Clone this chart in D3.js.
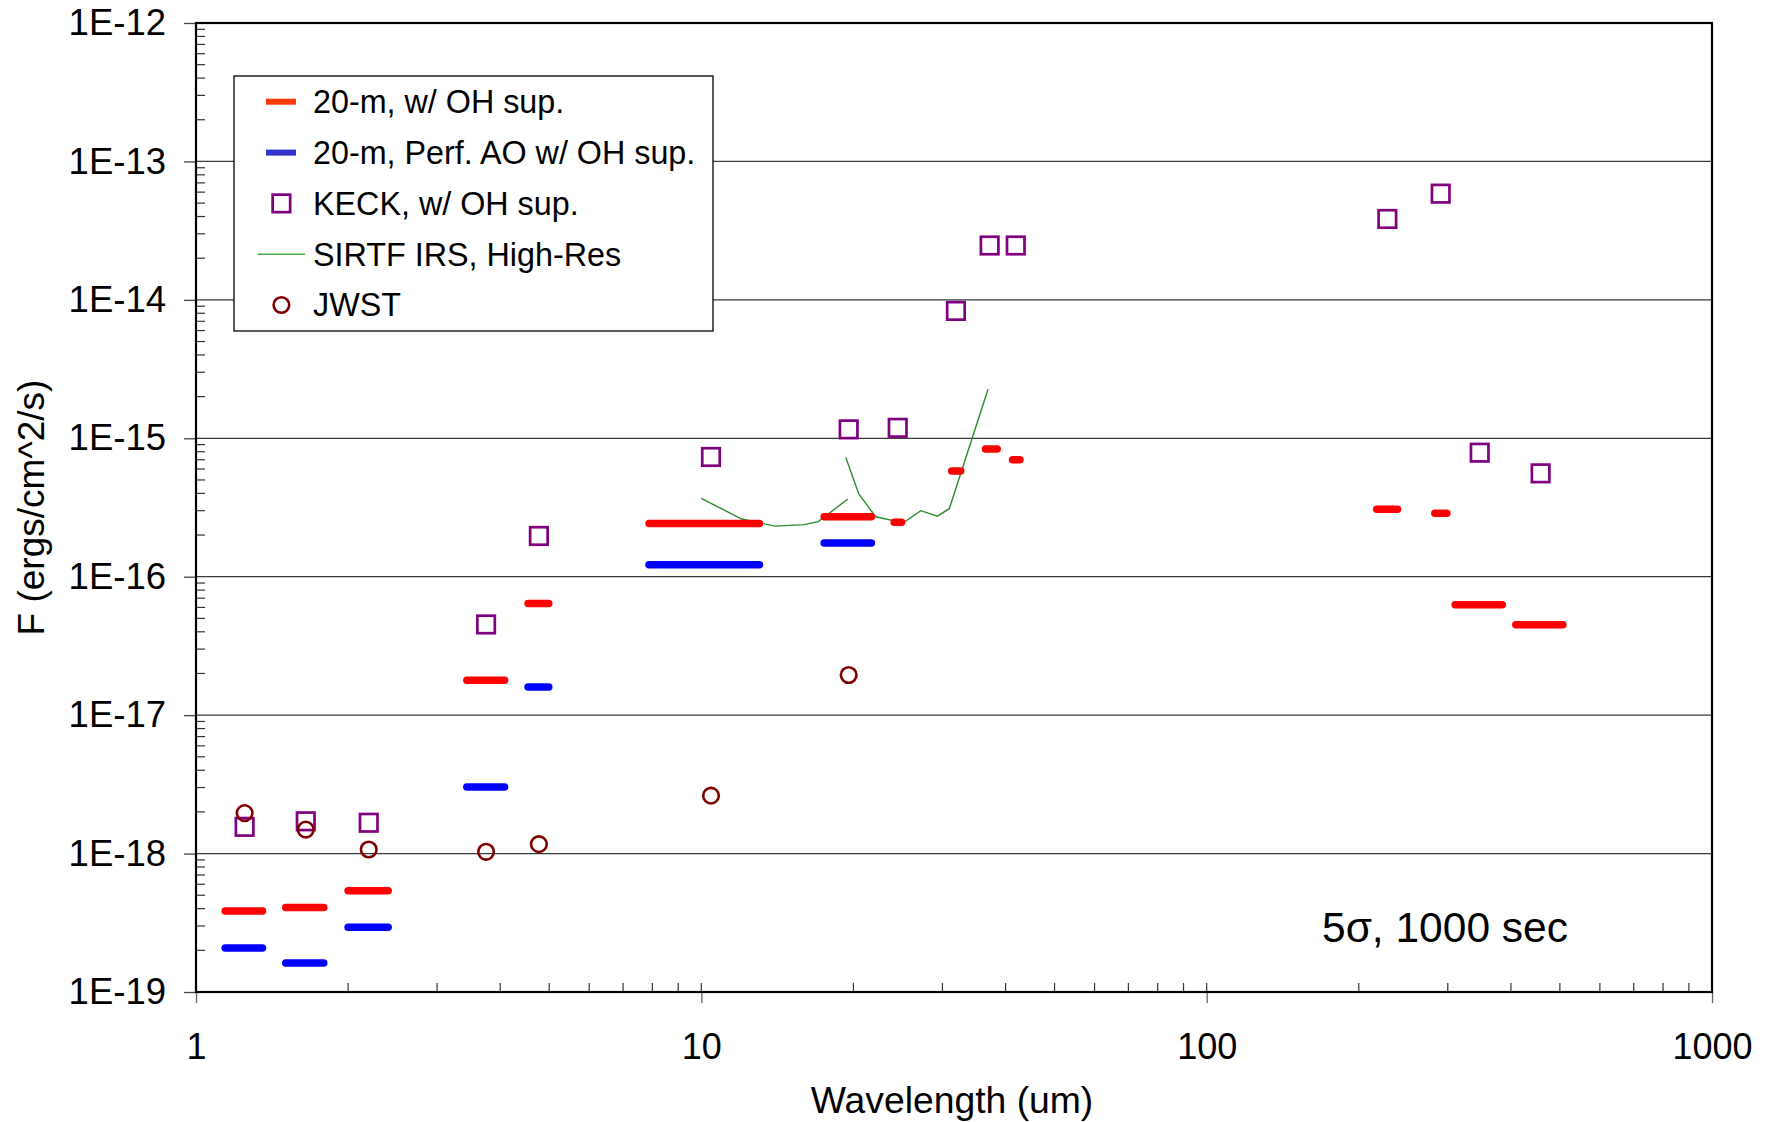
<!DOCTYPE html>
<html><head><meta charset="utf-8">
<script src="https://cdn.jsdelivr.net/npm/d3@7"></script>
<style>html,body{margin:0;padding:0;background:#fff;} svg{display:block;font-family:"Liberation Sans",Arial,sans-serif;}</style>
</head><body>
<svg id="chart" width="1772" height="1122"></svg>
<script>
// ---- data ----
const xTickValues = [1, 10, 100, 1000];
const xTickLabels = ["1", "10", "100", "1000"];
const yTickValues = [1e-12, 1e-13, 1e-14, 1e-15, 1e-16, 1e-17, 1e-18, 1e-19];
const yTickLabels = ["1E-12", "1E-13", "1E-14", "1E-15", "1E-16", "1E-17", "1E-18", "1E-19"];
const seriesNames = ["20-m, w/ OH sup.", "20-m, Perf. AO w/ OH sup.", "KECK, w/ OH sup.", "SIRTF IRS, High-Res", "JWST"];

// 20-m, w/ OH sup. (band start, band end, flux)
const redLo = [1.142, 1.505, 2.0, 3.435, 4.54, 7.88, 17.5, 24.08, 31.3, 36.5, 41.3, 217, 282.8, 310.3, 409];
const redHi = [1.354, 1.79, 2.40, 4.08, 4.99, 13.03, 21.7, 24.9, 32.6, 38.5, 42.7, 238.6, 298.7, 384.5, 506.8];
const redF  = [3.85e-19, 4.07e-19, 5.39e-19, 1.79e-17, 6.4e-17, 2.42e-16, 2.71e-16, 2.47e-16, 5.8e-16, 8.37e-16, 7.0e-16, 3.07e-16, 2.87e-16, 6.28e-17, 4.5e-17];

// 20-m, Perf. AO w/ OH sup.
const blueLo = [1.142, 1.505, 2.0, 3.435, 4.54, 7.88, 17.5];
const blueHi = [1.354, 1.79, 2.40, 4.08, 4.99, 13.03, 21.7];
const blueF  = [2.08e-19, 1.62e-19, 2.93e-19, 3.02e-18, 1.6e-17, 1.22e-16, 1.75e-16];

// KECK, w/ OH sup.
const keckX = [1.248, 1.649, 2.197, 3.75, 4.77, 10.45, 19.57, 24.47, 31.9, 37.2, 41.9, 227.8, 290.5, 347, 458];
const keckF = [1.56e-18, 1.71e-18, 1.67e-18, 4.52e-17, 1.97e-16, 7.33e-16, 1.16e-15, 1.19e-15, 8.32e-15, 2.47e-14, 2.47e-14, 3.84e-14, 5.85e-14, 7.87e-16, 5.58e-16];

// SIRTF IRS, High-Res (two modules)
const sirtfShortX = [10.0, 12.02, 13.99, 15.97, 17.04, 19.49];
const sirtfShortF = [3.68e-16, 2.61e-16, 2.32e-16, 2.38e-16, 2.50e-16, 3.64e-16];
const sirtfLongX  = [19.31, 20.49, 22.13, 25.10, 27.18, 29.31, 30.95, 36.93];
const sirtfLongF  = [7.29e-16, 3.96e-16, 2.71e-16, 2.45e-16, 3.0e-16, 2.74e-16, 3.10e-16, 2.26e-15];

// JWST
const jwstX = [1.248, 1.649, 2.197, 3.75, 4.77, 10.45, 19.57];
const jwstF = [1.96e-18, 1.49e-18, 1.07e-18, 1.03e-18, 1.17e-18, 2.62e-18, 1.95e-17];

const xTitle = "Wavelength (um)";
const yTitle = "F (ergs/cm^2/s)";
const note = "5\u03c3, 1000 sec";

// ---- layout ----
const L = 196, R = 1712, T = 23, B = 992;
const C = {red: "#ff0000", blue: "#0000ff", keck: "#800080", green: "#2e8b2e", jwst: "#800000",
           legRed: "#ff3a0a", legBlue: "#3333cc"};

const svg = d3.select("#chart");
const x = d3.scaleLog().domain([1, 1000]).range([L, R]);
const y = d3.scaleLog().domain([1e-19, 1e-12]).range([B, T]);

// gridlines
svg.append("g").selectAll("line").data(yTickValues.slice(1, -1)).join("line")
  .attr("x1", L).attr("x2", R).attr("y1", d => y(d)).attr("y2", d => y(d))
  .attr("stroke", "#3a3a3a").attr("stroke-width", 1.3);

// minor ticks (inside)
const xMinor = x.ticks().filter(d => !xTickValues.some(v => Math.abs(v - d) < 1e-9));
svg.append("g").selectAll("line").data(xMinor).join("line")
  .attr("x1", d => x(d)).attr("x2", d => x(d)).attr("y1", B).attr("y2", B - 9)
  .attr("stroke", "#333").attr("stroke-width", 1.2);
svg.append("g").selectAll("line").data([10, 100]).join("line")
  .attr("x1", d => x(d)).attr("x2", d => x(d)).attr("y1", B).attr("y2", B - 9)
  .attr("stroke", "#333").attr("stroke-width", 1.2);
const yMinor = y.ticks().filter(d => !yTickValues.some(v => Math.abs(Math.log10(v) - Math.log10(d)) < 1e-6));
svg.append("g").selectAll("line").data(yMinor).join("line")
  .attr("x1", L).attr("x2", L + 9).attr("y1", d => y(d)).attr("y2", d => y(d))
  .attr("stroke", "#333").attr("stroke-width", 1.2);

// axes
const xAxis = d3.axisBottom(x).tickValues(xTickValues)
  .tickFormat((d, i) => xTickLabels[i]).tickSizeInner(11).tickSizeOuter(0).tickPadding(30);
const gx = svg.append("g").attr("transform", `translate(0,${B})`).call(xAxis);
gx.select(".domain").remove();
gx.selectAll(".tick line").attr("stroke", "#666").attr("stroke-width", 1.3);
gx.selectAll(".tick text").attr("font-size", 36).attr("fill", "#000");

const yAxis = d3.axisLeft(y).tickValues(yTickValues)
  .tickFormat((d, i) => yTickLabels[i]).tickSizeInner(12).tickSizeOuter(0).tickPadding(18);
const gy = svg.append("g").attr("transform", `translate(${L},0)`).call(yAxis);
gy.select(".domain").remove();
gy.selectAll(".tick line").attr("stroke", "#444").attr("stroke-width", 1.3);
gy.selectAll(".tick text").attr("font-size", 36.5).attr("fill", "#000");

// plot border
svg.append("rect").attr("x", L).attr("y", T).attr("width", R - L).attr("height", B - T)
  .attr("fill", "none").attr("stroke", "#000").attr("stroke-width", 2.2);

// SIRTF lines
const line = d3.line().x(d => x(d[0])).y(d => y(d[1]));
[[sirtfShortX, sirtfShortF], [sirtfLongX, sirtfLongF]].forEach(([xs, fs]) => {
  svg.append("path").datum(xs.map((v, i) => [v, fs[i]])).attr("d", line)
    .attr("fill", "none").attr("stroke", C.green).attr("stroke-width", 1.4);
});

// bars
function bars(lo, hi, f, color) {
  svg.append("g").selectAll("line").data(f.map((v, i) => ({lo: lo[i], hi: hi[i], f: v}))).join("line")
    .attr("x1", d => x(d.lo)).attr("x2", d => x(d.hi)).attr("y1", d => y(d.f)).attr("y2", d => y(d.f))
    .attr("stroke", color).attr("stroke-width", 7.5).attr("stroke-linecap", "round");
}
bars(redLo, redHi, redF, C.red);
bars(blueLo, blueHi, blueF, C.blue);

// KECK squares
svg.append("g").selectAll("rect").data(keckX.map((v, i) => [v, keckF[i]])).join("rect")
  .attr("x", d => x(d[0]) - 8.75).attr("y", d => y(d[1]) - 8.75).attr("width", 17.5).attr("height", 17.5)
  .attr("fill", "none").attr("stroke", C.keck).attr("stroke-width", 2.7);

// JWST circles
svg.append("g").selectAll("circle").data(jwstX.map((v, i) => [v, jwstF[i]])).join("circle")
  .attr("cx", d => x(d[0])).attr("cy", d => y(d[1])).attr("r", 7.8)
  .attr("fill", "none").attr("stroke", C.jwst).attr("stroke-width", 2.6);

// axis titles
svg.append("text").attr("x", (L + R) / 2 - 2).attr("y", 1113).attr("text-anchor", "middle")
  .attr("font-size", 37.3).text(xTitle);
svg.append("text").attr("transform", `translate(44,${(T + B) / 2}) rotate(-90)`).attr("text-anchor", "middle")
  .attr("font-size", 37).text(yTitle);

// note
svg.append("text").attr("x", 1322).attr("y", 942).attr("font-size", 42.5).text(note);

// legend
const lg = svg.append("g");
lg.append("rect").attr("x", 234).attr("y", 76).attr("width", 479).attr("height", 255)
  .attr("fill", "#fff").attr("stroke", "#000").attr("stroke-width", 1.3);
const rows = [101.7, 152.6, 203.4, 254.3, 305];
lg.selectAll("text").data(seriesNames).join("text")
  .attr("x", 313).attr("y", (d, i) => rows[i]).attr("dy", "0.35em").attr("font-size", 32.3).text(d => d);
lg.append("line").attr("x1", 266).attr("x2", 296).attr("y1", rows[0]).attr("y2", rows[0])
  .attr("stroke", C.legRed).attr("stroke-width", 6);
lg.append("line").attr("x1", 266).attr("x2", 296).attr("y1", rows[1]).attr("y2", rows[1])
  .attr("stroke", C.legBlue).attr("stroke-width", 6);
lg.append("rect").attr("x", 281.4 - 8.75).attr("y", rows[2] - 8.75).attr("width", 17.5).attr("height", 17.5)
  .attr("fill", "none").attr("stroke", C.keck).attr("stroke-width", 2.7);
lg.append("line").attr("x1", 257.7).attr("x2", 305).attr("y1", rows[3]).attr("y2", rows[3])
  .attr("stroke", "#44aa44").attr("stroke-width", 1.4);
lg.append("circle").attr("cx", 281.4).attr("cy", rows[4]).attr("r", 7.8)
  .attr("fill", "none").attr("stroke", C.jwst).attr("stroke-width", 2.6);
</script>
</body></html>
